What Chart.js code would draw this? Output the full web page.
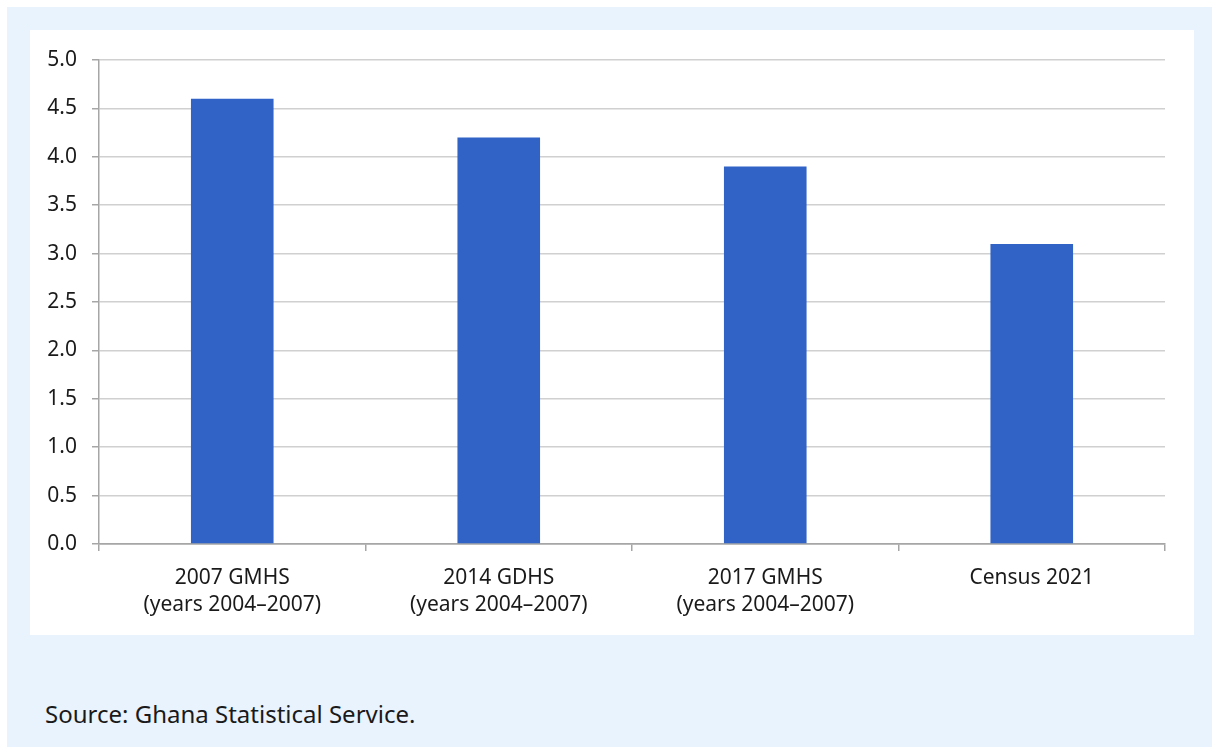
<!DOCTYPE html>
<html>
<head>
<meta charset="utf-8">
<script src="https://cdn.jsdelivr.net/npm/chart.js@4"></script>
<style>
  html, body { margin: 0; padding: 0; background: #ffffff; }
  body { width: 1212px; height: 747px; position: relative; overflow: hidden; font-family: "Noto Sans", "Open Sans", sans-serif; }
  #outer { position: absolute; left: 7px; top: 7px; width: 1205px; height: 740px; background: #e9f3fd; }
  #inner { position: absolute; left: 30px; top: 30px; width: 1164px; height: 605px; background: #ffffff; }
  #source { position: absolute; left: 45px; top: 700px; font-size: 24px; color: #1a1a1a; line-height: 28px; }
</style>
</head>
<body>
<div id="outer"></div>
<div id="inner"><canvas id="chart" width="1164" height="605"></canvas></div>
<div id="source">Source: Ghana Statistical Service.</div>
<script>
// Survey / census sources and the values plotted for each
const categories = [
  ["2007 GMHS", "(years 2004–2007)"],
  ["2014 GDHS", "(years 2004–2007)"],
  ["2017 GMHS", "(years 2004–2007)"],
  ["Census 2021"]
];
const values = [4.6, 4.2, 3.9, 3.1];
const yTicks = [0, 0.5, 1, 1.5, 2, 2.5, 3, 3.5, 4, 4.5, 5];

const textColor = "#1a1a1a";
const axisColor = "#a6a6a6";
const gridColor = "#d0d0d0";
const fontSpec = { family: "'Noto Sans', 'Open Sans', sans-serif", size: 21, lineHeight: 1.3 };

new Chart(document.getElementById("chart"), {
  type: "bar",
  data: {
    labels: categories,
    datasets: [{
      data: values,
      backgroundColor: "#3163c7",
      borderWidth: 0,
      categoryPercentage: 0.31,
      barPercentage: 1.0
    }]
  },
  options: {
    responsive: false,
    animation: false,
    layout: { padding: { left: 0, right: 29, top: 30, bottom: 0 } },
    plugins: { legend: { display: false }, tooltip: { enabled: false } },
    scales: {
      x: {
        offset: true,
        grid: {
          offset: true,
          drawOnChartArea: false,
          drawTicks: true,
          tickLength: 7,
          color: axisColor,
          lineWidth: 1.5
        },
        border: { color: axisColor, width: 1.5 },
        ticks: {
          color: textColor,
          font: fontSpec,
          padding: 13,
          maxRotation: 0,
          autoSkip: false
        },
        afterFit(scale) { scale.height = 91; }
      },
      y: {
        min: 0,
        max: 5,
        afterBuildTicks(scale) { scale.ticks = yTicks.map(v => ({ value: v })); },
        grid: {
          color: (ctx) => ctx.tick && ctx.tick.value === 0 ? axisColor : gridColor,
          lineWidth: 1.5,
          drawTicks: true,
          tickLength: 7,
          tickColor: axisColor
        },
        border: { color: axisColor, width: 1.5 },
        ticks: {
          color: textColor,
          font: fontSpec,
          padding: 15,
          callback: (v) => Number(v).toFixed(1)
        },
        afterFit(scale) { scale.width = 69; }
      }
    }
  }
});
</script>
</body>
</html>
